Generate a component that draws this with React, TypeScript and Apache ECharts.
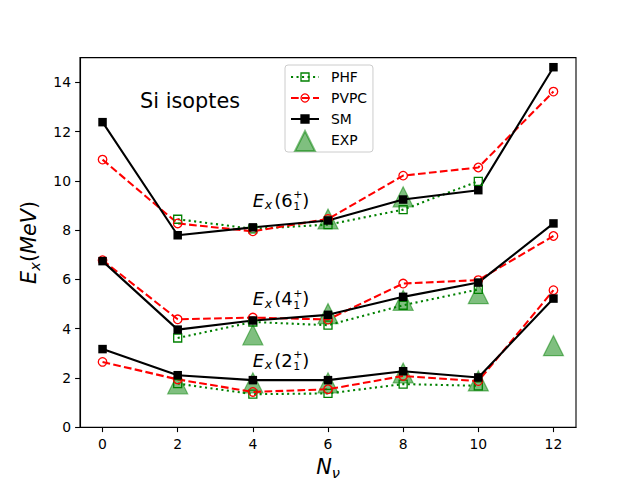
import React, { useEffect, useRef } from 'react';
import * as echarts from 'echarts';

// ---------- data ----------
const xFull = [0, 2, 4, 6, 8, 10, 12];
const xPHF = [2, 4, 6, 8, 10];

// 2+ band
const sm2 = [3.17, 2.11, 1.91, 1.91, 2.27, 2.02, 5.22];
const pvpc2 = [2.65, 1.94, 1.43, 1.54, 2.08, 1.87, 5.56];
const phf2 = [1.77, 1.34, 1.37, 1.75, 1.68];
const expX2 = [2, 4, 6, 8, 10, 12];
const exp2 = [1.76, 1.8, 1.8, 2.2, 1.88, 3.31];

// 4+ band
const sm4 = [6.74, 3.96, 4.33, 4.56, 5.29, 5.87, 8.27];
const pvpc4 = [6.78, 4.38, 4.45, 4.37, 5.83, 5.97, 7.76];
const phf4 = [3.62, 4.27, 4.14, 4.95, 5.59];
const expX4 = [4, 6, 8, 10];
const exp4 = [3.75, 4.61, 5.15, 5.42];

// 6+ band
const sm6 = [12.38, 7.79, 8.11, 8.39, 9.24, 9.62, 14.61];
const pvpc6 = [10.86, 8.27, 7.95, 8.45, 10.21, 10.54, 13.62];
const phf6 = [8.44, 8.05, 8.22, 8.83, 9.98];
const expX6 = [6, 8];
const exp6 = [8.45, 9.35];

const xTicks = [0, 2, 4, 6, 8, 10, 12];
const yTicks = [0, 2, 4, 6, 8, 10, 12, 14];

const titleText = 'Si isoptes';
const titlePos = [1, 13];
const levelLabels = ['6', '4', '2'];
const levelPos = [
  [4, 9],
  [4, 5],
  [4, 2.5],
];

const FONT = '"DejaVu Sans", sans-serif';
const GREEN = '#008000';
const RED = '#ff0000';
const EXPC = 'rgba(0,128,0,0.5)';

function pairs(xs: number[], ys: number[]) {
  return xs.map((x, i) => [x, ys[i]]);
}

function phfSeries(ys: number[]) {
  return {
    type: 'line',
    name: 'PHF',
    data: pairs(xPHF, ys),
    symbol: 'rect',
    symbolSize: 8,
    lineStyle: { color: GREEN, width: 2.08, type: [2.08, 3.43], cap: 'butt' },
    itemStyle: { color: 'rgba(0,0,0,0)', borderColor: GREEN, borderWidth: 1.3 },
    emphasis: { disabled: true },
  };
}
function pvpcSeries(ys: number[]) {
  return {
    type: 'line',
    name: 'PVPC',
    data: pairs(xFull, ys),
    symbol: 'circle',
    symbolSize: 8.5,
    lineStyle: { color: RED, width: 2.08, type: [7.7, 3.3], cap: 'butt' },
    itemStyle: { color: 'rgba(0,0,0,0)', borderColor: RED, borderWidth: 1.3 },
    emphasis: { disabled: true },
  };
}
function smSeries(ys: number[]) {
  return {
    type: 'line',
    name: 'SM',
    data: pairs(xFull, ys),
    symbol: 'rect',
    symbolSize: 8.5,
    lineStyle: { color: '#000', width: 2.08, type: 'solid' },
    itemStyle: { color: '#000', borderColor: '#000', borderWidth: 0 },
    emphasis: { disabled: true },
  };
}
function expSeries(xs: number[], ys: number[]) {
  return {
    type: 'scatter',
    name: 'EXP',
    data: pairs(xs, ys),
    symbol: 'triangle',
    symbolSize: 20,
    itemStyle: { color: EXPC, borderColor: EXPC, borderWidth: 1.2, opacity: 1 },
    emphasis: { disabled: true },
  };
}

export default function App() {
  const ref = useRef<HTMLDivElement>(null);
  useEffect(() => {
    document.body.style.margin = '0';
    if (!ref.current) return;
    const chart = echarts.init(ref.current, undefined, { renderer: 'svg' });
    const axisLabelStyle = { fontFamily: FONT, fontSize: 13.9, color: '#000' };
    const option: any = {
      animation: false,
      backgroundColor: '#fff',
      grid: {
        left: 80,
        top: 57.6,
        width: 496,
        height: 369.6,
        show: true,
        borderColor: '#000',
        borderWidth: 1.1,
        backgroundColor: 'transparent',
        containLabel: false,
        outerBoundsMode: 'none',
      },
      xAxis: {
        type: 'value',
        min: -0.6,
        max: 12.6,
        axisLine: { show: true, onZero: false, lineStyle: { color: '#000', width: 1.1 } },
        axisTick: { show: true, customValues: xTicks, length: 4.9, lineStyle: { color: '#000', width: 1.1 } },
        axisLabel: { show: true, customValues: xTicks, margin: 10, ...axisLabelStyle },
        splitLine: { show: false },
        name: '{i|N}{s|ν}',
        nameLocation: 'middle',
        nameGap: 27,
        nameTextStyle: {
          rich: {
            i: { fontFamily: FONT, fontSize: 20.8, fontStyle: 'italic', color: '#000', lineHeight: 26 },
            s: { fontFamily: FONT, fontSize: 14.6, fontStyle: 'italic', color: '#000', lineHeight: 16, verticalAlign: 'bottom' },
          },
        },
      },
      yAxis: {
        type: 'value',
        min: 0,
        max: 15,
        axisLine: { show: true, onZero: false, lineStyle: { color: '#000', width: 1.1 } },
        axisTick: { show: true, customValues: yTicks, length: 4.9, lineStyle: { color: '#000', width: 1.1 } },
        axisLabel: { show: true, customValues: yTicks, margin: 9, ...axisLabelStyle },
        splitLine: { show: false },
        name: '{i|E}{s|x}{p|(}{i|MeV}{p|)}',
        nameLocation: 'middle',
        nameRotate: 90,
        nameGap: 33,
        nameTextStyle: {
          rich: {
            i: { fontFamily: FONT, fontSize: 20.8, fontStyle: 'italic', color: '#000', lineHeight: 26 },
            p: { fontFamily: FONT, fontSize: 20.8, color: '#000', lineHeight: 26 },
            s: { fontFamily: FONT, fontSize: 14.6, fontStyle: 'italic', color: '#000', lineHeight: 16, verticalAlign: 'bottom' },
          },
        },
      },
      legend: [
        {
          data: ['PHF', 'PVPC', 'SM', { name: 'EXP', icon: 'none' }],
          orient: 'vertical',
          left: 285,
          top: 65,
          padding: [5, 6, 5, 5],
          itemWidth: 28,
          itemHeight: 10,
          itemGap: 7,
          backgroundColor: 'rgba(255,255,255,0.8)',
          borderColor: '#cccccc',
          borderWidth: 1,
          borderRadius: 3,
          itemStyle: { borderWidth: 1.3 },
          textStyle: { fontFamily: FONT, fontSize: 13.9, color: '#000', padding: [0, 0, 0, 7] },
          selectedMode: false,
        },
        {
          data: [{ name: 'EXP', icon: 'triangle' }],
          orient: 'vertical',
          left: 294,
          top: 130,
          padding: 0,
          itemWidth: 20,
          itemHeight: 20,
          formatter: () => '',
          textStyle: { fontSize: 1, color: 'rgba(0,0,0,0)' },
          selectedMode: false,
        },
      ],
      series: [
        phfSeries(phf2),
        pvpcSeries(pvpc2),
        smSeries(sm2),
        expSeries(expX2, exp2),
        phfSeries(phf4),
        pvpcSeries(pvpc4),
        smSeries(sm4),
        expSeries(expX4, exp4),
        phfSeries(phf6),
        pvpcSeries(pvpc6),
        smSeries(sm6),
        expSeries(expX6, exp6),
      ],
    };
    chart.setOption(option);

    const toPx = (p: number[]) => chart.convertToPixel({ xAxisIndex: 0, yAxisIndex: 0 }, p) as number[];
    const txt = (s: string, x: number, baseY: number, size: number, italic: boolean) => ({
      type: 'text',
      x,
      y: baseY - 0.3 * size,
      silent: true,
      style: {
        text: s,
        fontFamily: FONT,
        fontSize: size,
        fontStyle: italic ? 'italic' : 'normal',
        fill: '#000',
        align: 'left',
        verticalAlign: 'middle',
      },
    });
    const graphics: any[] = [];
    const tp = toPx(titlePos);
    graphics.push(txt(titleText, tp[0], tp[1], 20.8, false));
    const fs = 18;
    const ss = 12.6;
    const st = 11;
    levelLabels.forEach((lv, i) => {
      const p = toPx(levelPos[i]);
      const bx = p[0];
      const by = p[1];
      graphics.push(txt('E', bx, by, fs, true));
      graphics.push(txt('x', bx + 12, by + 2.8, ss, true));
      graphics.push(txt('(' + lv, bx + 21.3, by, fs, false));
      // stacked superscript "+" over subscript "1"
      graphics.push({
        type: 'text',
        x: bx + 40.5,
        y: by - 5,
        silent: true,
        style: {
          text: '+\n1',
          fontFamily: FONT,
          fontSize: st,
          lineHeight: 12,
          fill: '#000',
          align: 'left',
          verticalAlign: 'middle',
        },
      });
      graphics.push(txt(')', bx + 49.5, by, fs, false));
    });
    chart.setOption({ graphic: graphics });

    return () => chart.dispose();
  }, []);
  return <div ref={ref} style={{ width: 640, height: 480 }} />;
}
